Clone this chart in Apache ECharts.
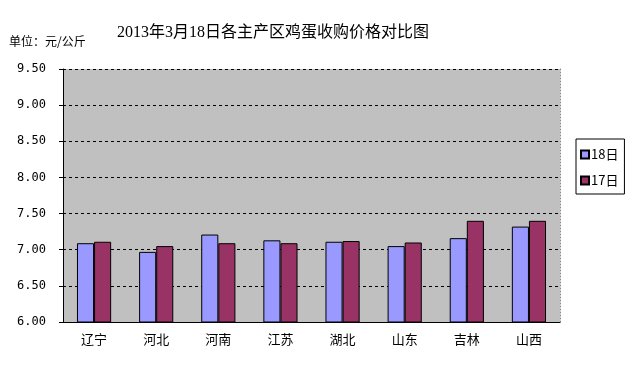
<!DOCTYPE html>
<html><head><meta charset="utf-8">
<script src="https://cdn.jsdelivr.net/npm/echarts@6/dist/echarts.min.js"></script>
<style>html,body{margin:0;padding:0;background:#fff}#c{width:640px;height:373px}</style>
</head><body><div id="c"></div>
<script>
const categories = ['辽宁','河北','河南','江苏','湖北','山东','吉林','山西'];
const seriesNames = ['18日','17日'];
const values18 = [7.09, 6.97, 7.21, 7.13, 7.11, 7.05, 7.16, 7.32];
const values17 = [7.11, 7.05, 7.09, 7.09, 7.12, 7.10, 7.40, 7.40];
const yMin = 6.0, yMax = 9.5, yStep = 0.5;

const chart = echarts.init(document.getElementById('c'));
chart.setOption({
  animation: false,
  backgroundColor: '#fff',
  title: [{
    text: '2013年3月18日各主产区鸡蛋收购价格对比图',
    left: 268, top: 20, textAlign: 'center',
    textStyle: {fontFamily: 'Liberation Serif, Noto Sans CJK SC', fontSize: 16, fontWeight: 'normal', color: '#000'}
  },{
    text: '单位：元/公斤',
    left: 4, top: 30,
    textStyle: {fontFamily: 'Noto Sans CJK SC', fontSize: 12, fontWeight: 'normal', color: '#000'}
  }],
  legend: {
    orient: 'vertical', left: 576, top: 139, width: 51,
    padding: [9, 6, 7, 4], itemGap: 13,
    borderColor: '#000', borderWidth: 1,
    itemWidth: 8, itemHeight: 8, icon: 'rect',
    textStyle: {fontFamily: 'Noto Sans CJK SC', fontSize: 13, color: '#000', padding: [0,0,0,-3]},
    data: seriesNames
  },
  grid: {left: 63, right: 80, top: 69, bottom: 51, show: true, backgroundColor: '#C0C0C0', borderWidth: 0},
  xAxis: {
    type: 'category', data: categories,
    axisLine: {lineStyle: {color: '#000', width: 1}},
    axisTick: {inside: true, length: 4, lineStyle: {color: '#000'}},
    axisLabel: {fontFamily: 'Noto Sans CJK SC', fontSize: 13, color: '#000', margin: 11}
  },
  yAxis: [{
    type: 'value', min: yMin, max: yMax, interval: yStep,
    axisLine: {show: true, lineStyle: {color: '#000', width: 1}},
    axisTick: {show: true, length: 4, lineStyle: {color: '#000'}},
    axisLabel: {formatter: v => v.toFixed(2), fontFamily: 'DejaVu Sans Mono', fontSize: 12, color: '#000', margin: 17},
    splitLine: {lineStyle: {color: '#000', type: [3, 3], width: 1}}
  },{
    type: 'value', min: yMin, max: yMax, interval: yStep, position: 'right',
    axisLine: {show: true, lineStyle: {color: '#888', type: [1, 2], width: 1}},
    axisTick: {show: false}, axisLabel: {show: false}, splitLine: {show: false}
  }],
  series: [{
    name: seriesNames[0], type: 'bar', data: values18, barGap: '0%', barCategoryGap: '45%',
    itemStyle: {color: '#9999FF', borderColor: '#000', borderWidth: 1}
  },{
    name: seriesNames[1], type: 'bar', data: values17, barGap: '0%', barCategoryGap: '45%',
    itemStyle: {color: '#993366', borderColor: '#000', borderWidth: 1}
  }]
});
</script></body></html>
